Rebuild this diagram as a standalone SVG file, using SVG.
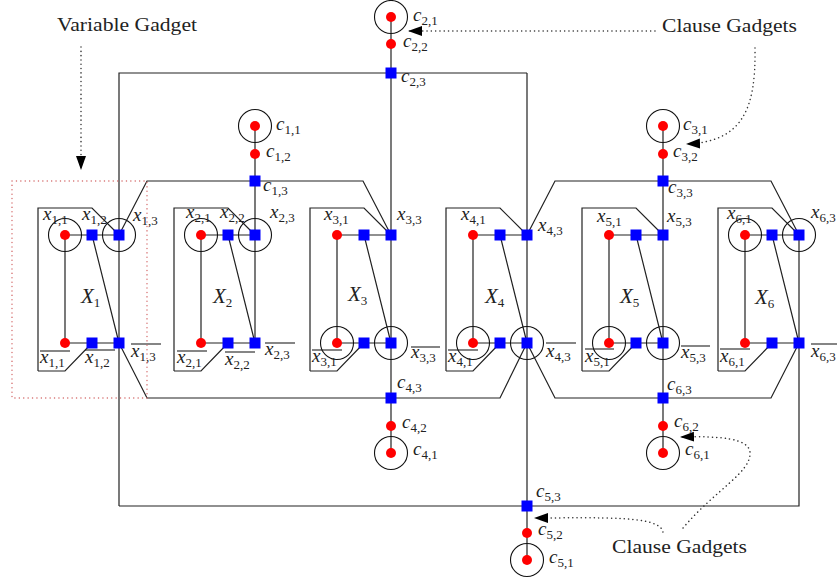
<svg xmlns="http://www.w3.org/2000/svg" width="837" height="583" viewBox="0 0 837 583">
<style>
.e{fill:none;stroke:#222;stroke-width:1.2}
.ring{fill:none;stroke:#111;stroke-width:1.1}
.rd{fill:#ff0000}
.bl{fill:#0000ff}
.m{font-family:"Liberation Serif",serif;font-style:italic;font-size:19px;fill:#222}
.s{font-style:normal;font-size:13px}
.big{font-family:"Liberation Serif",serif;font-style:italic;font-size:21px;fill:#222}
.ov{stroke:#222;stroke-width:1.1}
.t{font-family:"Liberation Serif",serif;font-size:19px;fill:#222}
.dot{fill:none;stroke:#333;stroke-width:1.5;stroke-dasharray:0.1 4.2;stroke-linecap:round}
</style>
<defs>
<marker id="ah" markerUnits="userSpaceOnUse" markerWidth="16" markerHeight="12" refX="14" refY="5" orient="auto">
<path d="M0,0 L14,5 L0,10 z" fill="#000"/>
</marker>
</defs>
<rect width="837" height="583" fill="#fff"/>

<g id="connectors">
<path class="e" d="M119,506 L119,73 L527,73 M527,73 L527,560 M119,506 L799,506 L799,235"/>
<path class="e" d="M119,235 L147,181 L363,181 L391,235 M255,126 L255,343"/>
<path class="e" d="M391,17 L391,453"/>
<path class="e" d="M527,235 L555,181 L771,181 L799,235 M663,126 L663,453"/>
<path class="e" d="M119,343 L147,398 L500,398 L527,343"/>
<path class="e" d="M527,343 L555,398 L771,398 L799,343"/>
<path class="e" d="M65,235 L119,235 M65,343 L119,343 M65,235 L65,343 M92,235 L119,343"/>
<path class="e" d="M201,235 L255,235 M201,343 L255,343 M201,235 L201,343 M228,235 L255,343"/>
<path class="e" d="M337,235 L391,235 M337,343 L391,343 M337,235 L337,343 M364,235 L391,343"/>
<path class="e" d="M473,235 L527,235 M473,343 L527,343 M473,235 L473,343 M500,235 L527,343"/>
<path class="e" d="M609,235 L663,235 M609,343 L663,343 M609,235 L609,343 M636,235 L663,343"/>
<path class="e" d="M745,235 L799,235 M745,343 L799,343 M745,235 L745,343 M772,235 L799,343"/>
</g>

<g id="gadget-X1"><path class="e" d="M38,371 L38,208 L92,208 L119,235 M38,371 L65,371 L92,343"/><text class="big" x="81" y="303">X<tspan class="s" dy="4">1</tspan></text></g>
<g id="gadget-X2"><path class="e" d="M174,371 L174,208 L228,208 L255,235 M174,371 L201,371 L228,343"/><text class="big" x="213" y="303">X<tspan class="s" dy="4">2</tspan></text></g>
<g id="gadget-X3"><path class="e" d="M310,371 L310,208 L364,208 L391,235 M310,371 L337,371 L364,343"/><text class="big" x="348" y="301">X<tspan class="s" dy="4">3</tspan></text></g>
<g id="gadget-X4"><path class="e" d="M446,371 L446,208 L500,208 L527,235 M446,371 L473,371 L500,343"/><text class="big" x="485" y="303">X<tspan class="s" dy="4">4</tspan></text></g>
<g id="gadget-X5"><path class="e" d="M582,371 L582,208 L636,208 L663,235 M582,371 L609,371 L636,343"/><text class="big" x="620" y="303">X<tspan class="s" dy="4">5</tspan></text></g>
<g id="gadget-X6"><path class="e" d="M718,371 L718,208 L772,208 L799,235 M718,371 L745,371 L772,343"/><text class="big" x="755" y="304">X<tspan class="s" dy="4">6</tspan></text></g>

<g id="rings">
<circle class="ring" cx="391" cy="17" r="16.5"/>
<circle class="ring" cx="255" cy="126" r="16.5"/>
<circle class="ring" cx="663" cy="126" r="16.5"/>
<circle class="ring" cx="391" cy="453" r="16.5"/>
<circle class="ring" cx="527" cy="560" r="16.5"/>
<circle class="ring" cx="663" cy="453" r="16.5"/>
<circle class="ring" cx="65" cy="235" r="16.5"/>
<circle class="ring" cx="119" cy="235" r="16.5"/>
<circle class="ring" cx="201" cy="235" r="16.5"/>
<circle class="ring" cx="255" cy="235" r="16.5"/>
<circle class="ring" cx="337" cy="343" r="16.5"/>
<circle class="ring" cx="391" cy="343" r="16.5"/>
<circle class="ring" cx="473" cy="343" r="16.5"/>
<circle class="ring" cx="527" cy="343" r="16.5"/>
<circle class="ring" cx="609" cy="343" r="16.5"/>
<circle class="ring" cx="663" cy="343" r="16.5"/>
<circle class="ring" cx="745" cy="235" r="16.5"/>
<circle class="ring" cx="799" cy="235" r="16.5"/>
</g>

<g id="c11"><circle class="rd" cx="255" cy="126" r="5"/><text class="m" x="276" y="130">c<tspan class="s" dy="4">1,1</tspan></text></g>
<g id="c12"><circle class="rd" cx="255" cy="154" r="5"/><text class="m" x="266" y="157">c<tspan class="s" dy="4">1,2</tspan></text></g>
<g id="c13"><rect class="bl" x="249.5" y="175.5" width="11" height="11"/><text class="m" x="263" y="191">c<tspan class="s" dy="4">1,3</tspan></text></g>
<g id="c21"><circle class="rd" cx="391" cy="17" r="5"/><text class="m" x="413" y="21">c<tspan class="s" dy="4">2,1</tspan></text></g>
<g id="c22"><circle class="rd" cx="391" cy="44" r="5"/><text class="m" x="403" y="47">c<tspan class="s" dy="4">2,2</tspan></text></g>
<g id="c23"><rect class="bl" x="385.5" y="67.5" width="11" height="11"/><text class="m" x="401" y="82">c<tspan class="s" dy="4">2,3</tspan></text></g>
<g id="c31"><circle class="rd" cx="663" cy="126" r="5"/><text class="m" x="683" y="130">c<tspan class="s" dy="4">3,1</tspan></text></g>
<g id="c32"><circle class="rd" cx="663" cy="154" r="5"/><text class="m" x="673" y="157">c<tspan class="s" dy="4">3,2</tspan></text></g>
<g id="c33"><rect class="bl" x="657.5" y="175.5" width="11" height="11"/><text class="m" x="668" y="193">c<tspan class="s" dy="4">3,3</tspan></text></g>
<g id="c41"><circle class="rd" cx="391" cy="453" r="5"/><text class="m" x="413" y="455">c<tspan class="s" dy="4">4,1</tspan></text></g>
<g id="c42"><circle class="rd" cx="391" cy="426" r="5"/><text class="m" x="402" y="428">c<tspan class="s" dy="4">4,2</tspan></text></g>
<g id="c43"><rect class="bl" x="385.5" y="392.5" width="11" height="11"/><text class="m" x="397" y="388">c<tspan class="s" dy="4">4,3</tspan></text></g>
<g id="c51"><circle class="rd" cx="527" cy="560" r="5"/><text class="m" x="549" y="563">c<tspan class="s" dy="4">5,1</tspan></text></g>
<g id="c52"><circle class="rd" cx="527" cy="533" r="5"/><text class="m" x="538" y="535">c<tspan class="s" dy="4">5,2</tspan></text></g>
<g id="c53"><rect class="bl" x="521.5" y="500.5" width="11" height="11"/><text class="m" x="536" y="497">c<tspan class="s" dy="4">5,3</tspan></text></g>
<g id="c61"><circle class="rd" cx="663" cy="453" r="5"/><text class="m" x="685" y="455">c<tspan class="s" dy="4">6,1</tspan></text></g>
<g id="c62"><circle class="rd" cx="663" cy="426" r="5"/><text class="m" x="674" y="427">c<tspan class="s" dy="4">6,2</tspan></text></g>
<g id="c63"><rect class="bl" x="657.5" y="392.5" width="11" height="11"/><text class="m" x="667" y="390">c<tspan class="s" dy="4">6,3</tspan></text></g>

<g id="x11"><circle class="rd" cx="65" cy="235" r="5"/><text class="m" x="43" y="220">x<tspan class="s" dy="4">1,1</tspan></text></g>
<g id="x12"><rect class="bl" x="86.5" y="229.5" width="11" height="11"/><text class="m" x="82" y="220">x<tspan class="s" dy="4">1,2</tspan></text></g>
<g id="x13"><rect class="bl" x="113.5" y="229.5" width="11" height="11"/><text class="m" x="133" y="221">x<tspan class="s" dy="4">1,3</tspan></text></g>
<g id="xb11"><circle class="rd" cx="65" cy="343" r="5"/><line class="ov" x1="40" y1="351" x2="70" y2="351"/><text class="m" x="40" y="363">x<tspan class="s" dy="4">1,1</tspan></text></g>
<g id="xb12"><rect class="bl" x="86.5" y="337.5" width="11" height="11"/><line class="ov" x1="85" y1="350" x2="115" y2="350"/><text class="m" x="85" y="363">x<tspan class="s" dy="4">1,2</tspan></text></g>
<g id="xb13"><rect class="bl" x="113.5" y="337.5" width="11" height="11"/><line class="ov" x1="131" y1="344" x2="161" y2="344"/><text class="m" x="131" y="357">x<tspan class="s" dy="4">1,3</tspan></text></g>
<g id="x21"><circle class="rd" cx="201" cy="235" r="5"/><text class="m" x="186" y="218">x<tspan class="s" dy="4">2,1</tspan></text></g>
<g id="x22"><rect class="bl" x="222.5" y="229.5" width="11" height="11"/><text class="m" x="220" y="218">x<tspan class="s" dy="4">2,2</tspan></text></g>
<g id="x23"><rect class="bl" x="249.5" y="229.5" width="11" height="11"/><text class="m" x="270" y="218">x<tspan class="s" dy="4">2,3</tspan></text></g>
<g id="xb21"><circle class="rd" cx="201" cy="343" r="5"/><line class="ov" x1="177" y1="351" x2="207" y2="351"/><text class="m" x="177" y="363">x<tspan class="s" dy="4">2,1</tspan></text></g>
<g id="xb22"><rect class="bl" x="222.5" y="337.5" width="11" height="11"/><line class="ov" x1="225" y1="352" x2="255" y2="352"/><text class="m" x="225" y="365">x<tspan class="s" dy="4">2,2</tspan></text></g>
<g id="xb23"><rect class="bl" x="249.5" y="337.5" width="11" height="11"/><line class="ov" x1="265" y1="343" x2="295" y2="343"/><text class="m" x="265" y="355">x<tspan class="s" dy="4">2,3</tspan></text></g>
<g id="x31"><circle class="rd" cx="337" cy="235" r="5"/><text class="m" x="324" y="220">x<tspan class="s" dy="4">3,1</tspan></text></g>
<g id="x32"><rect class="bl" x="358.5" y="229.5" width="11" height="11"/></g>
<g id="x33"><rect class="bl" x="385.5" y="229.5" width="11" height="11"/><text class="m" x="397" y="220">x<tspan class="s" dy="4">3,3</tspan></text></g>
<g id="xb31"><circle class="rd" cx="337" cy="343" r="5"/><line class="ov" x1="312" y1="350" x2="342" y2="350"/><text class="m" x="312" y="362">x<tspan class="s" dy="4">3,1</tspan></text></g>
<g id="xb32"><rect class="bl" x="358.5" y="337.5" width="11" height="11"/></g>
<g id="xb33"><rect class="bl" x="385.5" y="337.5" width="11" height="11"/><line class="ov" x1="411" y1="347" x2="440" y2="347"/><text class="m" x="411" y="358">x<tspan class="s" dy="4">3,3</tspan></text></g>
<g id="x41"><circle class="rd" cx="473" cy="235" r="5"/><text class="m" x="461" y="220">x<tspan class="s" dy="4">4,1</tspan></text></g>
<g id="x42"><rect class="bl" x="494.5" y="229.5" width="11" height="11"/></g>
<g id="x43"><rect class="bl" x="521.5" y="229.5" width="11" height="11"/><text class="m" x="538" y="231">x<tspan class="s" dy="4">4,3</tspan></text></g>
<g id="xb41"><circle class="rd" cx="473" cy="343" r="5"/><line class="ov" x1="448" y1="350" x2="478" y2="350"/><text class="m" x="448" y="362">x<tspan class="s" dy="4">4,1</tspan></text></g>
<g id="xb42"><rect class="bl" x="494.5" y="337.5" width="11" height="11"/></g>
<g id="xb43"><rect class="bl" x="521.5" y="337.5" width="11" height="11"/><line class="ov" x1="546" y1="343" x2="576" y2="343"/><text class="m" x="546" y="357">x<tspan class="s" dy="4">4,3</tspan></text></g>
<g id="x51"><circle class="rd" cx="609" cy="235" r="5"/><text class="m" x="597" y="222">x<tspan class="s" dy="4">5,1</tspan></text></g>
<g id="x52"><rect class="bl" x="630.5" y="229.5" width="11" height="11"/></g>
<g id="x53"><rect class="bl" x="657.5" y="229.5" width="11" height="11"/><text class="m" x="667" y="222">x<tspan class="s" dy="4">5,3</tspan></text></g>
<g id="xb51"><circle class="rd" cx="609" cy="343" r="5"/><line class="ov" x1="585" y1="349" x2="614" y2="349"/><text class="m" x="585" y="362">x<tspan class="s" dy="4">5,1</tspan></text></g>
<g id="xb52"><rect class="bl" x="630.5" y="337.5" width="11" height="11"/></g>
<g id="xb53"><rect class="bl" x="657.5" y="337.5" width="11" height="11"/><line class="ov" x1="681" y1="346" x2="710" y2="346"/><text class="m" x="681" y="358">x<tspan class="s" dy="4">5,3</tspan></text></g>
<g id="x61"><circle class="rd" cx="745" cy="235" r="5"/><text class="m" x="727" y="219">x<tspan class="s" dy="4">6,1</tspan></text></g>
<g id="x62"><rect class="bl" x="766.5" y="229.5" width="11" height="11"/></g>
<g id="x63"><rect class="bl" x="793.5" y="229.5" width="11" height="11"/><text class="m" x="811" y="218">x<tspan class="s" dy="4">6,3</tspan></text></g>
<g id="xb61"><circle class="rd" cx="745" cy="343" r="5"/><line class="ov" x1="720" y1="349" x2="750" y2="349"/><text class="m" x="720" y="362">x<tspan class="s" dy="4">6,1</tspan></text></g>
<g id="xb62"><rect class="bl" x="766.5" y="337.5" width="11" height="11"/></g>
<g id="xb63"><rect class="bl" x="793.5" y="337.5" width="11" height="11"/><line class="ov" x1="811" y1="344" x2="841" y2="344"/><text class="m" x="811" y="357">x<tspan class="s" dy="4">6,3</tspan></text></g>

<g id="annotations">
<rect x="12" y="181" width="135" height="217" fill="none" stroke="#d46a6a" stroke-width="1.4" stroke-dasharray="0.1 4.3" stroke-linecap="round"/>
<text class="t" x="57" y="31" textLength="140" lengthAdjust="spacingAndGlyphs">Variable Gadget</text>
<path class="dot" d="M81,47 L81,170" marker-end="url(#ah)"/>
<text class="t" x="662" y="32" textLength="135" lengthAdjust="spacingAndGlyphs">Clause Gadgets</text>
<path class="dot" d="M655,31 L408,31" marker-end="url(#ah)"/>
<path class="dot" d="M755,48 C756,110 742,142 686,144" marker-end="url(#ah)"/>
<text class="t" x="612" y="553" textLength="135" lengthAdjust="spacingAndGlyphs">Clause Gadgets</text>
<path class="dot" d="M663,532 C660,515 600,518 534,518" marker-end="url(#ah)"/>
<path class="dot" d="M683,528 C715,490 752,472 750,452 C748,438 720,436 680,437" marker-end="url(#ah)"/>
</g>
</svg>
